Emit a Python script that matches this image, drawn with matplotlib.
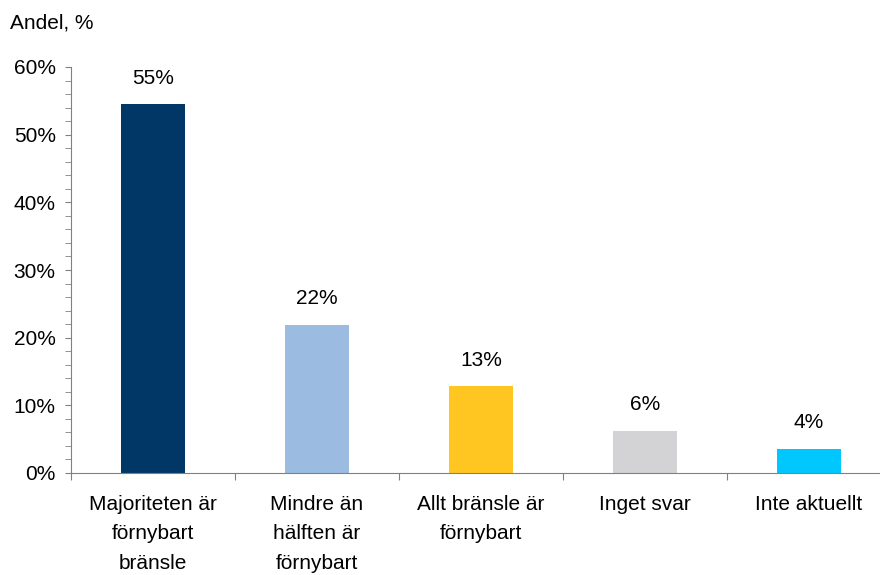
import matplotlib.pyplot as plt
from matplotlib.ticker import MultipleLocator, PercentFormatter

plt.rcParams['font.family'] = ['Liberation Sans', 'DejaVu Sans']

# data
categories = ["Majoriteten är\nförnybart\nbränsle", "Mindre än\nhälften är\nförnybart",
              "Allt bränsle är\nförnybart", "Inget svar", "Inte aktuellt"]
values = [54.5, 21.9, 12.8, 6.2, 3.6]
labels = ["55%", "22%", "13%", "6%", "4%"]
colors = ["#003767", "#9bbbe0", "#ffc520", "#d3d2d5", "#00c8ff"]

FS = 15

fig = plt.figure(figsize=(8.8, 5.75), dpi=100)
ax = fig.add_axes([71 / 880, 102 / 575, 820 / 880, 406 / 575])

x = range(len(categories))
bars = ax.bar(x, values, width=0.39, color=colors, zorder=2)
for b, lab in zip(bars, labels):
    ax.annotate(lab, (b.get_x() + b.get_width() / 2, b.get_height()),
                xytext=(0, 12), textcoords="offset points",
                ha="center", va="bottom", fontsize=FS)

ax.set_xlim(-0.5, len(categories) - 0.5)
ax.set_ylim(0, 60)
ax.yaxis.set_major_locator(MultipleLocator(10))
ax.yaxis.set_minor_locator(MultipleLocator(2))
ax.yaxis.set_major_formatter(PercentFormatter(decimals=0))

# x ticks at category boundaries, labels centred under bars
ax.set_xticks([i - 0.5 for i in range(len(categories) + 1)])
ax.set_xticklabels([])
ax.set_xticks(list(x), minor=True)
ax.set_xticklabels(categories, minor=True, fontsize=FS, linespacing=1.68)
ax.tick_params(axis="x", which="minor", length=0, pad=16)
ax.tick_params(axis="x", which="major", length=5, color="#808080", direction="out")
ax.tick_params(axis="y", which="both", length=4, color="#808080", labelsize=FS, pad=7)

for s in ["top", "right"]:
    ax.spines[s].set_visible(False)
for s in ["left", "bottom"]:
    ax.spines[s].set_color("#808080")

fig.text(10 / 880, 1 - 23 / 575, "Andel, %", fontsize=FS, va="center", ha="left")

fig.savefig("out.png", dpi=100)
